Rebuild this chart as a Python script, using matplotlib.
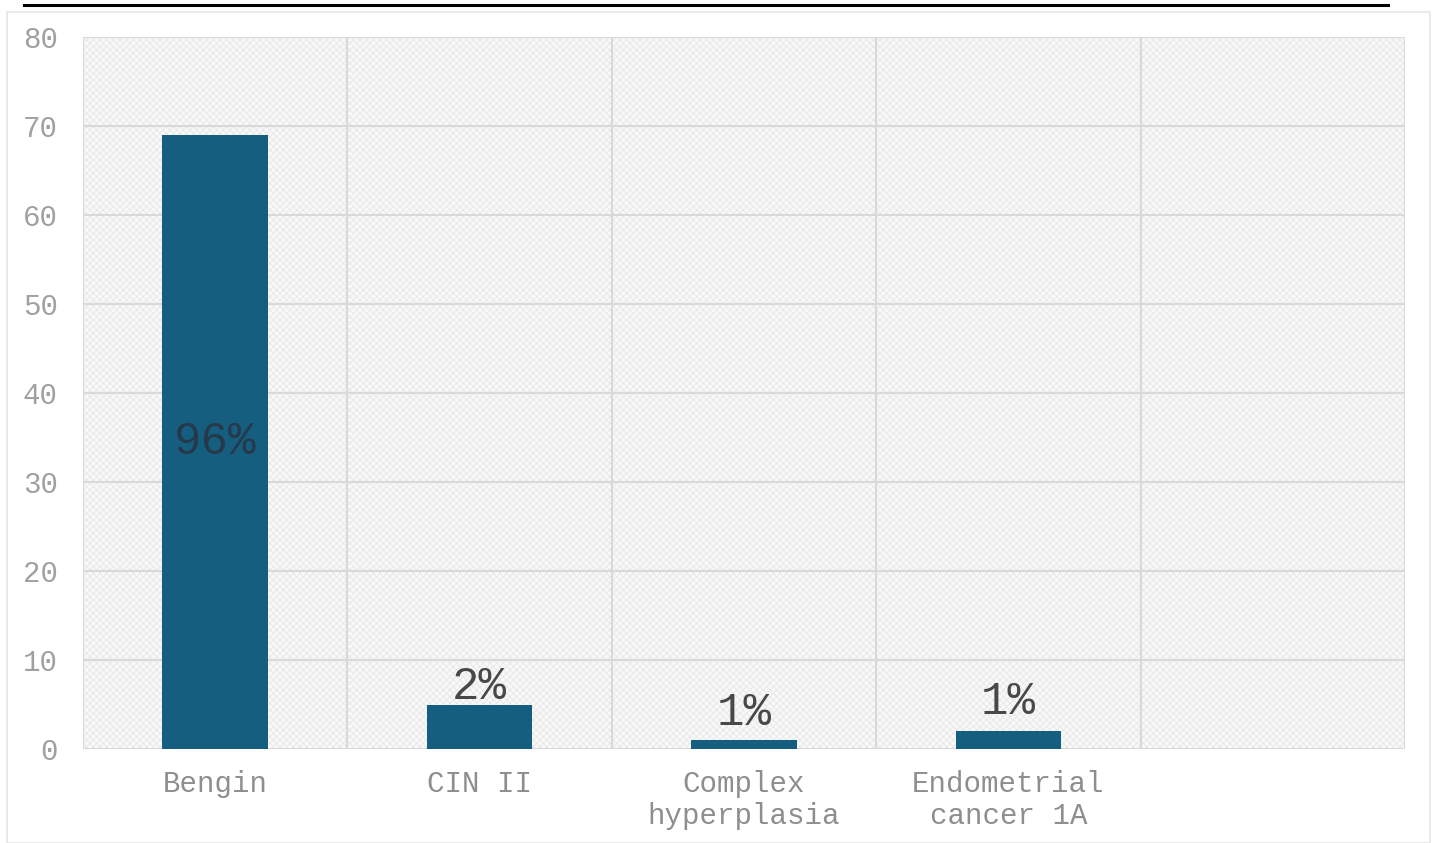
import matplotlib
matplotlib.use("Agg")
import matplotlib.pyplot as plt
from matplotlib.patches import Rectangle
from matplotlib.lines import Line2D

categories = ["Bengin", "CIN II", "Complex\nhyperplasia", "Endometrial\ncancer 1A", ""]
values = [69, 5, 1, 2, None]
pct_labels = ["96%", "2%", "1%", "1%", None]
yticks = [0, 10, 20, 30, 40, 50, 60, 70, 80]

bar_color = "#165e80"
font = ["Liberation Mono", "DejaVu Sans Mono"]

W, H = 1436, 843
plt.rcParams["hatch.linewidth"] = 0.5
fig = plt.figure(figsize=(W / 100, H / 100), dpi=100)
fig.patch.set_facecolor("white")

ax = fig.add_axes([83 / W, 1 - 749 / H, (1405 - 83) / W, (749 - 37) / H])
ax.set_facecolor("#f8f8f8")
bg = Rectangle((0, 0), 1, 1, transform=ax.transAxes, facecolor="none",
               edgecolor="#e4e4e4", hatch="xxxxx", linewidth=0, zorder=0)
ax.add_patch(bg)

n = len(categories)
xs = list(range(n))
bx = [x for x, v in zip(xs, values) if v is not None]
bv = [v for v in values if v is not None]
ax.bar(bx, bv, width=0.4, color=bar_color, zorder=3)

ax.set_xlim(-0.5, n - 0.5)
ax.set_ylim(0, 80)
ax.set_yticks(yticks)
ax.set_yticklabels([str(t) for t in yticks], family=font, fontsize=21, color="#a0a0a0")
ax.set_xticks(xs)
ax.set_xticklabels(categories, family=font, fontsize=21, color="#8e8e8e", linespacing=1.2)
ax.tick_params(axis="both", length=0)
ax.tick_params(axis="y", pad=18)
ax.tick_params(axis="x", pad=15)

for t in yticks:
    ax.axhline(t, color="#d9d9d9", lw=1.5, zorder=1)
for b in range(n + 1):
    ax.axvline(b - 0.5, color="#d9d9d9", lw=1.5, zorder=1)
for s in ax.spines.values():
    s.set_visible(False)

offsets = [None, -3, 4, 5]
for x, v, lab, off in zip(xs, values, pct_labels, offsets + [None]):
    if lab is None:
        continue
    if off is None:
        ax.text(x, v / 2, lab, ha="center", va="center", family=font,
                fontsize=33, color="#26394a", zorder=4)
    else:
        ax.annotate(lab, (x, v), xytext=(0, off), textcoords="offset points",
                    ha="center", va="bottom", family=font, fontsize=33,
                    color="#484848", zorder=4)

fig.add_artist(Line2D([24 / W, 1388 / W], [1 - 5 / H, 1 - 5 / H], color="black", lw=2.2))
fig.add_artist(Rectangle((7 / W, 0), (1430 - 7) / W, 1 - 12 / H, transform=fig.transFigure,
                         facecolor="none", edgecolor="#e6e6e6", lw=1.2))

fig.savefig("out.png", dpi=100)
